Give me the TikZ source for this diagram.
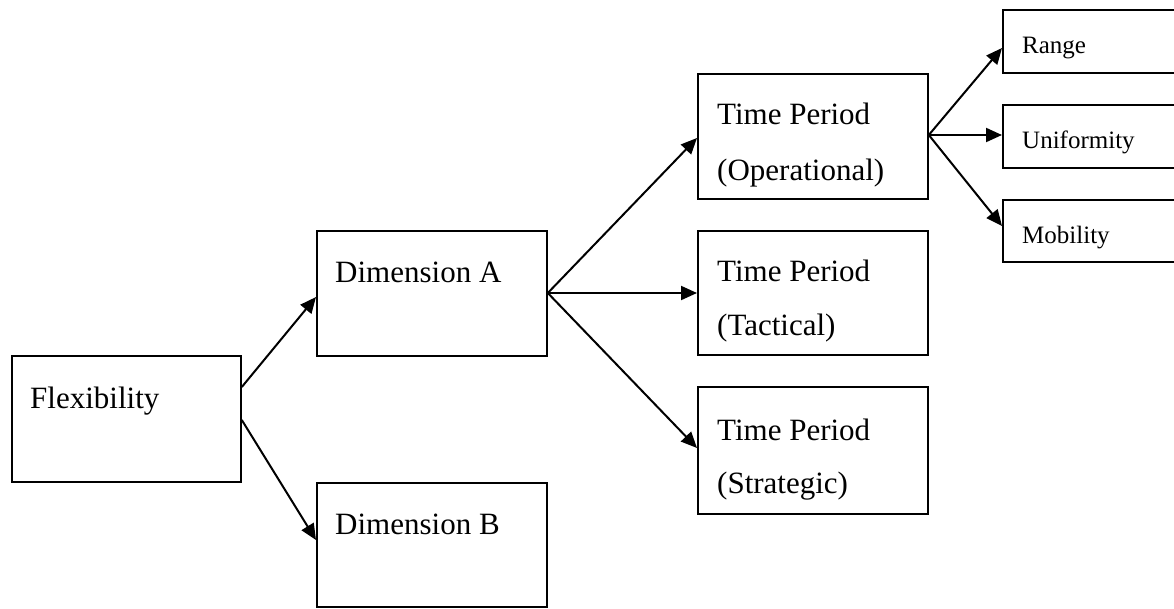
\documentclass[tikz,border=0pt]{standalone}
\usepackage{fontspec}
\setmainfont{Liberation Serif}
\usetikzlibrary{arrows.meta}
\begin{document}
\begin{tikzpicture}[x=1pt,y=-1pt,
  box/.style={draw, line width=1.8pt, rectangle, anchor=north west, inner sep=0pt},
  big/.style={font=\fontsize{31}{37}\selectfont, inner sep=0pt, anchor=base west},
  small/.style={font=\fontsize{25}{30}\selectfont, inner sep=0pt, anchor=base west},
  link/.style={line width=2pt, -{Triangle[length=16pt,width=14pt]}}]
\useasboundingbox (0,0) rectangle (1174,608);

% boxes
\node[box, minimum width=229pt, minimum height=126pt] (fl) at (11,355) {};
\node[box, minimum width=230pt, minimum height=125pt] (dA) at (316,230) {};
\node[box, minimum width=230pt, minimum height=124pt] (dB) at (316,482) {};
\node[box, minimum width=230pt, minimum height=125pt] (op) at (697,73) {};
\node[box, minimum width=230pt, minimum height=124pt] (ta) at (697,230) {};
\node[box, minimum width=230pt, minimum height=127pt] (st) at (697,386) {};
\node[box, minimum width=200pt, minimum height=63pt] (ra) at (1002,9) {};
\node[box, minimum width=200pt, minimum height=63pt] (un) at (1002,104) {};
\node[box, minimum width=200pt, minimum height=62pt] (mo) at (1002,199) {};

% labels
\node[big] (flt) at ([xshift=19pt,yshift=-53pt]fl.north west) {Flexibility};
\node[big] (dAt) at ([xshift=19pt,yshift=-52pt]dA.north west) {Dimension A};
\node[big] (dBt) at ([xshift=19pt,yshift=-52pt]dB.north west) {Dimension B};
\node[big] (opt1) at ([xshift=20pt,yshift=-51pt]op.north west) {Time Period};
\node[big] (opt2) at ([xshift=20pt,yshift=-107pt]op.north west) {(Operational)};
\node[big] (tat1) at ([xshift=20pt,yshift=-51pt]ta.north west) {Time Period};
\node[big] (tat2) at ([xshift=20pt,yshift=-105pt]ta.north west) {(Tactical)};
\node[big] (stt1) at ([xshift=20pt,yshift=-54pt]st.north west) {Time Period};
\node[big] (stt2) at ([xshift=20pt,yshift=-107pt]st.north west) {(Strategic)};
\node[small] (rat) at ([xshift=20pt,yshift=-44pt]ra.north west) {Range};
\node[small] (unt) at ([xshift=20pt,yshift=-44pt]un.north west) {Uniformity};
\node[small] (mot) at ([xshift=20pt,yshift=-44pt]mo.north west) {Mobility};

% connectors
\draw[link] ([yshift=-32pt]fl.north east) -- ([yshift=-67pt]dA.north west);
\draw[link] ([yshift=-65pt]fl.north east) -- ([yshift=-58pt]dB.north west);
\draw[link] ([yshift=-63pt]dA.north east) -- ([yshift=-65pt]op.north west);
\draw[link] ([yshift=-63pt]dA.north east) -- ([yshift=-63pt]ta.north west);
\draw[link] ([yshift=-63pt]dA.north east) -- ([yshift=-62pt]st.north west);
\draw[link] ([yshift=-62pt]op.north east) -- ([yshift=-39pt]ra.north west);
\draw[link] ([yshift=-62pt]op.north east) -- ([yshift=-31pt]un.north west);
\draw[link] ([yshift=-62pt]op.north east) -- ([yshift=-27pt]mo.north west);
\end{tikzpicture}
\end{document}
